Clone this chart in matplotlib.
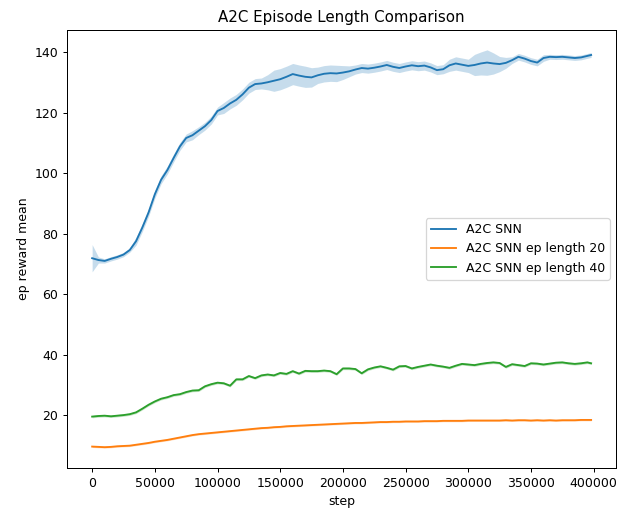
import numpy as np
import matplotlib
matplotlib.use("Agg")
import matplotlib.pyplot as plt

# training steps (every 5000, last logged point at 398000)
steps = list(range(0, 400000, 5000)) + [398000]

# A2C SNN mean reward and spread
snn = [71.9, 71.3, 71.0, 71.7, 72.3, 73.1, 74.6, 77.5, 82.0, 87.0,
       93.0, 97.8, 101.0, 105.0, 108.8, 111.6, 112.5, 114.0, 115.5, 117.5,
       120.5, 121.5, 123.0, 124.2, 126.0, 128.2, 129.4, 129.6, 130.0, 130.5,
       131.0, 131.8, 132.7, 132.2, 131.8, 131.6, 132.3, 132.8, 133.0, 132.9,
       133.2, 133.6, 134.2, 134.7, 134.5, 134.8, 135.2, 135.7, 135.1, 134.7,
       135.2, 135.6, 135.3, 135.5, 134.9, 134.0, 134.3, 135.6, 136.2, 135.8,
       135.4, 135.7, 136.2, 136.5, 136.2, 136.0, 136.4, 137.3, 138.4, 137.8,
       137.0, 136.5, 138.0, 138.4, 138.3, 138.4, 138.2, 138.0, 138.2, 138.7,
       139.0]
snn_err = [4.5, 1.0, 0.7, 0.7, 0.7, 0.7, 0.7, 1.3, 1.3, 1.3,
           1.3, 1.3, 1.3, 1.3, 1.3, 1.3, 1.5, 1.3, 1.3, 1.3,
           1.3, 1.8, 1.8, 1.8, 1.8, 1.8, 1.8, 1.8, 2.5, 3.5,
           3.5, 3.5, 3.5, 3.5, 3.5, 3.2, 2.7, 2.7, 2.7, 2.7,
           2.3, 1.8, 1.5, 1.5, 1.5, 1.5, 1.5, 1.5, 1.5, 1.5,
           1.5, 1.5, 1.5, 1.5, 1.5, 1.5, 1.5, 2.0, 2.2, 2.2,
           2.2, 3.5, 3.8, 4.2, 3.5, 2.5, 1.8, 1.1, 1.1, 1.1,
           1.1, 1.1, 1.1, 0.8, 0.8, 0.8, 0.8, 0.8, 0.8, 0.8,
           0.8]

# A2C SNN, episode length 20
snn20 = [9.7, 9.6, 9.5, 9.6, 9.8, 9.9, 10.0, 10.3, 10.6, 10.9,
         11.3, 11.6, 11.9, 12.3, 12.7, 13.1, 13.5, 13.8, 14.0, 14.2,
         14.4, 14.6, 14.8, 15.0, 15.2, 15.4, 15.6, 15.8, 15.9, 16.1,
         16.2, 16.4, 16.5, 16.6, 16.7, 16.8, 16.9, 17.0, 17.1, 17.2,
         17.3, 17.4, 17.5, 17.5, 17.6, 17.7, 17.8, 17.8, 17.9, 17.9,
         18.0, 18.0, 18.0, 18.1, 18.1, 18.1, 18.2, 18.2, 18.2, 18.2,
         18.3, 18.3, 18.3, 18.3, 18.3, 18.3, 18.4, 18.3, 18.4, 18.4,
         18.3, 18.4, 18.3, 18.4, 18.3, 18.4, 18.4, 18.4, 18.5, 18.5,
         18.5]

# A2C SNN, episode length 40
snn40 = [19.6, 19.8, 19.9, 19.7, 19.9, 20.1, 20.4, 21.0, 22.2, 23.5,
         24.6, 25.5, 26.0, 26.7, 27.0, 27.7, 28.2, 28.3, 29.6, 30.3,
         30.8, 30.6, 29.8, 31.9, 31.9, 33.0, 32.3, 33.2, 33.5, 33.2,
         34.0, 33.7, 34.6, 33.8, 34.7, 34.6, 34.6, 34.8, 34.6, 33.6,
         35.5, 35.5, 35.3, 33.9, 35.2, 35.8, 36.2, 35.7, 35.1, 36.2,
         36.3, 35.5, 36.0, 36.4, 36.8, 36.4, 36.1, 35.7, 36.4, 37.0,
         36.8, 36.6, 37.0, 37.3, 37.5, 37.3, 36.0, 36.9, 36.6, 36.3,
         37.2, 37.1, 36.8, 37.1, 37.4, 37.5, 37.2, 37.0, 37.2, 37.5,
         37.2]

x = np.array(steps)
fig = plt.figure(figsize=(628 / 90, 516 / 90), dpi=90)
ax = fig.add_axes([0.107, 0.093, 0.874, 0.849])

y = np.array(snn)
e = np.array(snn_err)
ax.plot(x, y, color="C0", label="A2C SNN")
ax.fill_between(x, y - e, y + e, color="C0", alpha=0.25, lw=0)

y = np.array(snn20)
ax.plot(x, y, color="C1", label="A2C SNN ep length 20")
ax.fill_between(x, y - 0.3, y + 0.3, color="C1", alpha=0.25, lw=0)

y = np.array(snn40)
ax.plot(x, y, color="C2", label="A2C SNN ep length 40")
ax.fill_between(x, y - 0.4, y + 0.4, color="C2", alpha=0.25, lw=0)

ax.set_title("A2C Episode Length Comparison")
ax.set_xlabel("step")
ax.set_ylabel("ep reward mean")
ax.legend(loc="center right")

fig.savefig("out.png", dpi=90)
